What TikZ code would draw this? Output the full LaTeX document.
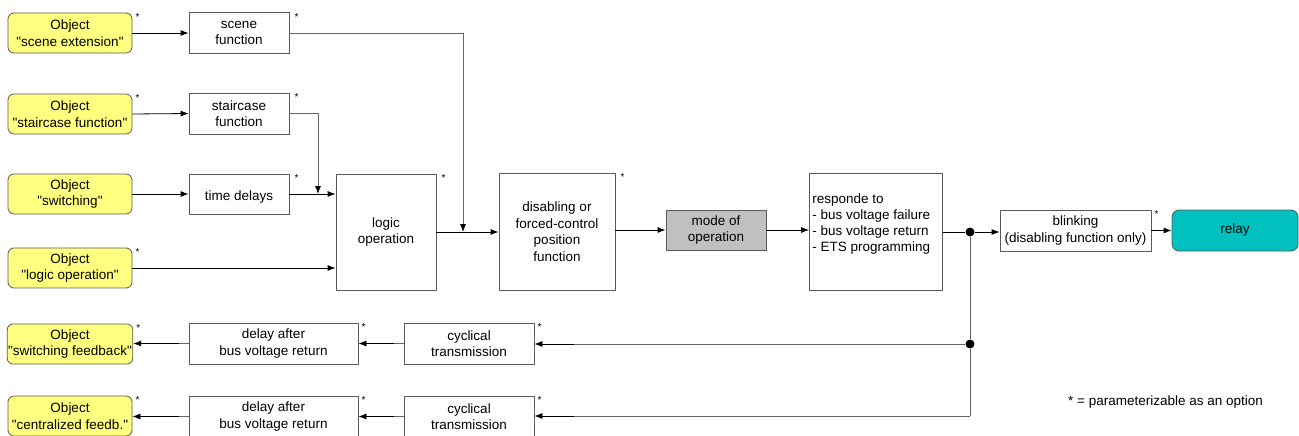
\documentclass[tikz,border=0pt]{standalone}
\usepackage{fontspec}
\setmainfont{Liberation Sans}[Ligatures=TeXReset]
\usetikzlibrary{arrows.meta}
\definecolor{objyellow}{RGB}{255,255,128}
\definecolor{relayteal}{RGB}{0,192,192}
\definecolor{modegray}{RGB}{192,192,192}
\definecolor{boxline}{RGB}{90,90,90}
\tikzset{
  base/.style={draw=boxline, line width=0.8pt, align=center, inner sep=1pt,
    font=\fontsize{13.5}{16.5}\selectfont},
  obj/.style={base, fill=objyellow, rounded corners=6pt, minimum width=124pt, minimum height=40pt},
  fbox/.style={base, fill=white, execute at begin node={\rule{0pt}{15.5pt}}},
  conn/.style={line width=0.8pt, -{Latex[length=8pt,width=6pt]}},
  gline/.style={line width=0.8pt, draw=black!60},
  starn/.style={font=\fontsize{10}{10}\selectfont, inner sep=0pt, anchor=north west},
  jdot/.style={circle, fill=black, inner sep=0pt, minimum size=9pt}
}
\begin{document}
\begin{tikzpicture}[x=1pt,y=-1pt]
\useasboundingbox (0,0) rectangle (1299,436);
% objects
\node[obj] (o1) at (70,33) {Object\\"scene extension"};
\node[obj] (o2) at (70,114) {Object\\"staircase function"};
\node[obj] (o3) at (70,194) {Object\\"switching"};
\node[obj] (o4) at (70,268) {Object\\"logic operation"};
\node[obj] (o5) at (70,344) {Object\\"switching feedback"};
\node[obj] (o6) at (70,416) {Object\\"centralized feedb."};
% function boxes
\node[fbox, minimum width=100pt, minimum height=41pt] (scf) at (239,33) {scene\\function};
\node[fbox, minimum width=100pt, minimum height=41pt] (stf) at (239,113.5) {staircase\\function};
\node[fbox, minimum width=100pt, minimum height=40pt] (td) at (239,194) {time delays};
\node[fbox, minimum width=100pt, minimum height=116pt] (lo) at (386,232) {logic\\operation};
\node[fbox, minimum width=116pt, minimum height=117pt] (dis) at (557,231.5) {disabling or\\forced-control\\position\\function};
\node[fbox, fill=modegray, minimum width=100pt, minimum height=40pt] (mo) at (716,230) {mode of\\operation};
\node[fbox, minimum width=133pt, minimum height=117pt] (resp) at (876,231.5) {};
\node[base, draw=none, align=left, anchor=west, font=\fontsize{13.5}{16.3}\selectfont] (resptxt) at (811,224) {responde to\\- bus voltage failure\\- bus voltage return\\- ETS programming};
\node[fbox, minimum width=151pt, minimum height=41pt] (bl) at (1075.5,230.5) {blinking\\(disabling function only)};
\node[base, fill=relayteal, rounded corners=7pt, minimum width=126pt, minimum height=41pt] (rel) at (1235,230.5) {relay};
\node[fbox, minimum width=169pt, minimum height=41pt] (d1) at (273.5,343.5) {delay after\\bus voltage return};
\node[fbox, minimum width=130pt, minimum height=41pt] (c1) at (469,343.5) {cyclical\\transmission};
\node[fbox, minimum width=169pt, minimum height=41pt] (d2) at (273.5,416.5) {delay after\\bus voltage return};
\node[fbox, minimum width=130pt, minimum height=41pt] (c2) at (469,416.5) {cyclical\\transmission};
% junctions and coordinates
\node[jdot] (j1) at (970,232) {};
\node[jdot] (j2) at (970,344) {};
\coordinate (j3) at (970,416);
\coordinate (m1) at (463,232);
\coordinate (m2) at (318,194);
% connectors
\draw[conn] (o1.east) -- (scf.west);
\draw[conn] (o2.east) -- (stf.west);
\draw[conn] (o3.east) -- (td.west);
\draw[conn] (td.east) -- (lo.west |- td.east);
\draw[conn] (o4.east) -- (lo.west |- o4.east);
\draw[gline] (scf.east) -| ([yshift=8pt]m1);
\draw[conn] ([yshift=8pt]m1) -- (m1);
\draw[gline] (stf.east) -| ([yshift=8pt]m2);
\draw[conn] ([yshift=8pt]m2) -- (m2);
\draw[conn] (lo.east |- m1) -- (dis.west |- m1);
\draw[conn] (dis.east |- mo.west) -- (mo.west);
\draw[conn] (mo.east) -- (resp.west |- mo.east);
\draw[line width=0.8pt] (resp.east |- j1) -- (j1);
\draw[conn] (j1) -- (bl.west |- j1);
\draw[conn] (bl.east) -- (rel.west);
\draw[gline] (j1) -- (j2) -- (j3);
\draw[gline] (j2) -- ([xshift=40pt]c1.east |- j2);
\draw[conn] ([xshift=40pt]c1.east |- j2) -- (c1.east |- j2);
\draw[gline] (j3) -- ([xshift=40pt]c2.east |- j3);
\draw[conn] ([xshift=40pt]c2.east |- j3) -- (c2.east |- j3);
\draw[gline] (c1.west) -- ([xshift=-10pt]c1.west);
\draw[conn] ([xshift=-10pt]c1.west) -- (d1.east);
\draw[gline] (d1.west) -- ([xshift=-10pt]d1.west);
\draw[conn] ([xshift=-10pt]d1.west) -- (o5.east |- d1.west);
\draw[gline] (c2.west) -- ([xshift=-10pt]c2.west);
\draw[conn] ([xshift=-10pt]c2.west) -- (d2.east);
\draw[gline] (d2.west) -- ([xshift=-10pt]d2.west);
\draw[conn] ([xshift=-10pt]d2.west) -- (o6.east |- d2.west);
% stars
\node[starn] (s1) at ([shift={(3,1)}]o1.north east) {*};
\node[starn] (s2) at ([shift={(5,1)}]scf.north east) {*};
\node[starn] (s3) at ([shift={(3,1)}]o2.north east) {*};
\node[starn] (s4) at ([shift={(5,1)}]stf.north east) {*};
\node[starn] (s5) at ([shift={(5,1)}]td.north east) {*};
\node[starn] (s6) at ([shift={(5,1)}]lo.north east) {*};
\node[starn] (s7) at ([shift={(3,1)}]o4.north east) {*};
\node[starn] (s8) at ([shift={(5,1)}]dis.north east) {*};
\node[starn] (s9) at ([shift={(3,1)}]bl.north east) {*};
\node[starn] (s10) at ([shift={(3,1)}]o5.north east) {*};
\node[starn] (s11) at ([shift={(3,1)}]d1.north east) {*};
\node[starn] (s12) at ([shift={(3,1)}]c1.north east) {*};
\node[starn] (s13) at ([shift={(3,1)}]o6.north east) {*};
\node[starn] (s14) at ([shift={(3,1)}]d2.north east) {*};
\node[starn] (s15) at ([shift={(3,1)}]c2.north east) {*};
% footnote
\node[font=\fontsize{13.5}{15}\selectfont, inner sep=0pt, anchor=west] (fn) at (1068,402) {* = parameterizable as an option};
\end{tikzpicture}
\end{document}
